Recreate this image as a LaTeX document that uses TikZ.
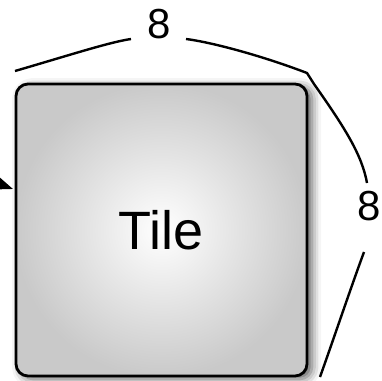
\documentclass[tikz,border=0pt]{standalone}
\usepackage{fontspec}
\setmainfont{Liberation Sans}
\usetikzlibrary{positioning, arrows.meta, shadows.blur}

\begin{document}
\begin{tikzpicture}[
                x=1pt, y=-1pt,
                tile/.style={rectangle, draw=black, line width=2.8pt, rounded corners=12pt, minimum width=291pt, minimum height=292pt, inner color=white, outer color=gray!42, blur shadow={shadow xshift=5pt, shadow yshift=-3pt, shadow blur radius=9pt, shadow opacity=65}, font=\fontsize{54}{60}\selectfont},
                dimlabel/.style={inner sep=0pt, font=\fontsize{42}{48}\selectfont},
                brace/.style={line width=2.4pt, black},
                arrow/.style={-{Triangle[length=20pt, width=15pt]}, line width=2pt, black}
            ]
            \useasboundingbox (0,0) rectangle (382,380);
            \clip (0,0) rectangle (382,380);

            % Tile
            \node[tile] (tile) at (161.5,230) {Tile};

            % Dimension labels
            \node[dimlabel] (width) at (159,24) {8};
            \node[dimlabel] (height) at (369,206) {8};

            % Brace ends
            \coordinate (topleft) at (15,71);
            \coordinate (topgapL) at (131,39);
            \coordinate (topgapR) at (186,39);
            \coordinate (corner) at (307,73);
            \coordinate (sidegapT) at (367,183);
            \coordinate (sidegapB) at (364,252);
            \coordinate (bottomright) at (320,377);

            % Braces
            \draw[brace] (topleft) .. controls (70,55) and (110,42) .. (topgapL);
            \draw[brace] (topgapR) .. controls (210,42) and (260,55) .. (corner) -- (314,84) .. controls (345,128) and (362,155) .. (sidegapT);
            \draw[brace] (sidegapB) .. controls (350,290) and (335,335) .. (bottomright);

            % Incoming arrow
            \coordinate (source) at (-45,168);
            \coordinate (entry) at (13,189);
            \draw[arrow] (source) -- (entry);
        \end{tikzpicture}
\end{document}
